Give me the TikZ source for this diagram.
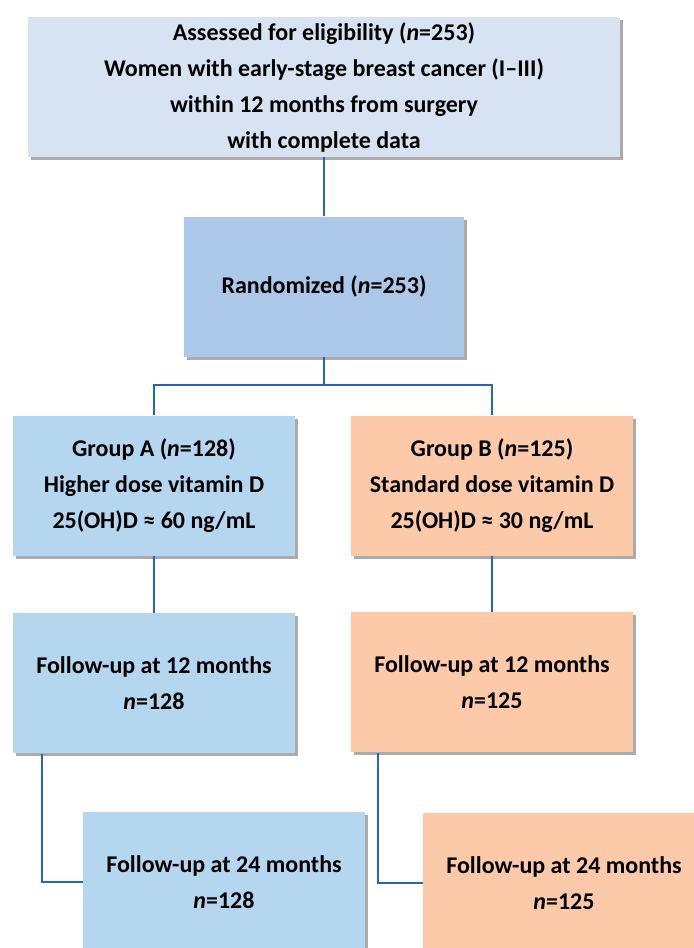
\documentclass[tikz,border=0pt]{standalone}
\usepackage{fontspec}
\setmainfont{Carlito}
\usetikzlibrary{positioning}
\usetikzlibrary{shadows}

\definecolor{eligfill}{RGB}{215,227,242}
\definecolor{randfill}{RGB}{172,200,232}
\definecolor{armafill}{RGB}{180,214,238}
\definecolor{armbfill}{RGB}{252,202,168}
\definecolor{linkblue}{RGB}{40,100,178}

\begin{document}
\begin{tikzpicture}[
    box/.style={rectangle, minimum height=70pt, align=center, inner sep=0pt,
        font=\fontsize{12}{18}\selectfont\bfseries,
        drop shadow={shadow xshift=1.5pt, shadow yshift=-1.5pt, fill=black!60, opacity=0.55}},
    arma/.style={box, fill=armafill, minimum width=141pt},
    armb/.style={box, fill=armbfill, minimum width=141pt},
    link/.style={draw=linkblue, line width=1pt},
    ]
    \useasboundingbox (0,0) rectangle (347pt,-474pt);
    \clip (0,0) rectangle (347pt,-474pt);

    \node (elig) [box, fill=eligfill, minimum width=296pt] at (162pt,-43.5pt)
        {Assessed for eligibility (\textit{n}=253)\\
         Women with early-stage breast cancer (I–III)\\
         within 12 months from surgery\\
         with complete data};
    \node (rand) [box, fill=randfill, minimum width=140pt, below=29.5pt of elig]
        {Randomized (\textit{n}=253)};

    \node (grpA) [arma, below=29pt of rand, xshift=-85pt]
        {Group A (\textit{n}=128)\\Higher dose vitamin D\\25(OH)D ≈ 60 ng/mL};
    \node (grpB) [armb, below=29pt of rand, xshift=84pt]
        {Group B (\textit{n}=125)\\Standard dose vitamin D\\25(OH)D ≈ 30 ng/mL};

    \node (fuA12) [arma, below=28.5pt of grpA] {Follow-up at 12 months\\\textit{n}=128};
    \node (fuB12) [armb, below=28pt of grpB] {Follow-up at 12 months\\\textit{n}=125};
    \node (fuA24) [arma, below=29pt of fuA12, xshift=35pt] {Follow-up at 24 months\\\textit{n}=128};
    \node (fuB24) [armb, below=30pt of fuB12, xshift=36pt] {Follow-up at 24 months\\\textit{n}=125};

    \draw [link] (elig) -- (rand);
    \draw [link] (rand.south) -- ++(0,-14pt) -| (grpA.north);
    \draw [link] (rand.south) -- ++(0,-14pt) -| (grpB.north);
    \draw [link] (grpA) -- (fuA12);
    \draw [link] (grpB.south) -- (grpB.south |- fuB12.north);
    \draw [link] ([xshift=14.5pt]fuA12.south west) |- (fuA24.west);
    \draw [link] ([xshift=13.5pt]fuB12.south west) |- (fuB24.west);
\end{tikzpicture}
\end{document}
